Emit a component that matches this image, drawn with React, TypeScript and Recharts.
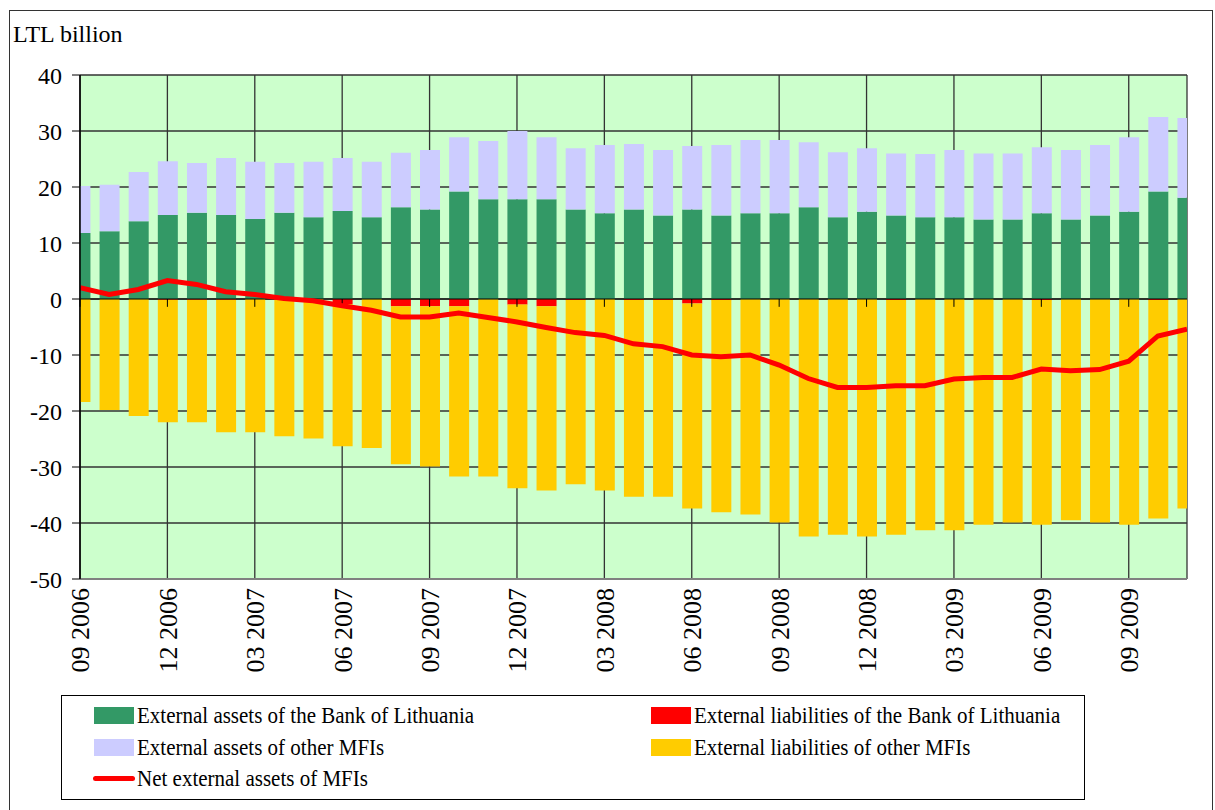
import React from "react";
import {
  ComposedChart,
  Bar,
  Line,
  XAxis,
  YAxis,
  CartesianGrid,
  ReferenceLine,
} from "recharts";

const FONT = '"Liberation Serif", "Times New Roman", serif';

const months = [
  "09 2006", "10 2006", "11 2006", "12 2006",
  "01 2007", "02 2007", "03 2007", "04 2007", "05 2007", "06 2007",
  "07 2007", "08 2007", "09 2007", "10 2007", "11 2007", "12 2007",
  "01 2008", "02 2008", "03 2008", "04 2008", "05 2008", "06 2008",
  "07 2008", "08 2008", "09 2008", "10 2008", "11 2008", "12 2008",
  "01 2009", "02 2009", "03 2009", "04 2009", "05 2009", "06 2009",
  "07 2009", "08 2009", "09 2009", "10 2009", "11 2009",
];

// LTL billion
const bankAssets = [
  11.8, 12.1, 13.9, 15.0, 15.4, 15.0, 14.3, 15.4, 14.6, 15.7, 14.6,
  16.4, 16.0, 19.2, 17.8, 17.8, 17.8, 16.0, 15.3, 16.0, 14.9, 16.0, 14.9, 15.3, 15.3, 16.4,
  14.6, 15.6, 14.9, 14.6, 14.6, 14.2, 14.2, 15.3, 14.2, 14.9, 15.6, 19.2, 18.1,
];
const mfiAssets = [
  8.4, 8.3, 8.8, 9.6, 8.9, 10.2, 10.2, 8.9, 9.9, 9.5, 9.9,
  9.7, 10.6, 9.7, 10.4, 12.2, 11.1, 10.9, 12.2, 11.7, 11.7, 11.3, 12.6, 13.1, 13.1, 11.6,
  11.6, 11.3, 11.1, 11.3, 12.0, 11.8, 11.8, 11.8, 12.4, 12.6, 13.3, 13.3, 14.2,
];
const bankLiabilities = [
  0, 0, 0, -0.15, -0.15, -0.15, 0, 0, 0, -0.9, 0,
  -1.3, -1.3, -1.3, 0, -1.0, -1.3, -0.2, 0, -0.2, -0.2, -0.8, -0.2, 0, 0, 0,
  0, 0, -0.2, 0, 0, 0, 0, -0.2, 0, 0, 0, -0.2, 0,
];
const mfiLiabilities = [
  -18.4, -19.8, -20.9, -21.85, -21.85, -23.65, -23.8, -24.5, -24.9, -25.4, -26.6,
  -28.2, -28.6, -30.4, -31.7, -32.8, -32.9, -32.9, -34.2, -35.1, -35.1, -36.6, -37.9, -38.5, -39.9, -42.4,
  -42.1, -42.4, -41.9, -41.3, -41.3, -40.3, -39.9, -40.1, -39.5, -39.9, -40.3, -39.0, -37.4,
];
const netAssets = [
  2.0, 0.8, 1.7, 3.3, 2.6, 1.3, 0.8, 0.1, -0.3, -1.2, -2.0,
  -3.2, -3.2, -2.5, -3.3, -4.1, -5.1, -6.0, -6.5, -8.0, -8.5, -10.0, -10.3, -10.0, -11.8, -14.2,
  -15.8, -15.8, -15.5, -15.5, -14.3, -14.0, -14.0, -12.5, -12.8, -12.6, -11.1, -6.6, -5.4,
];

const xTicks = [0, 3, 6, 9, 12, 15, 18, 21, 24, 27, 30, 33, 36];
const yTicks = [-50, -40, -30, -20, -10, 0, 10, 20, 30, 40];

const data = months.map((m, i) => ({
  idx: i,
  month: m,
  bankAssets: bankAssets[i],
  mfiAssets: mfiAssets[i],
  bankLiabilities: bankLiabilities[i],
  mfiLiabilities: mfiLiabilities[i],
  net: netAssets[i],
}));

const legendItems = [
  { name: "External assets of the Bank of Lithuania", color: "#339966", type: "rect", col: 0, row: 0 },
  { name: "External liabilities of the Bank of Lithuania", color: "#FF0000", type: "rect", col: 1, row: 0 },
  { name: "External assets of other MFIs", color: "#CCCCFF", type: "rect", col: 0, row: 1 },
  { name: "External liabilities of other MFIs", color: "#FFCC00", type: "rect", col: 1, row: 1 },
  { name: "Net external assets of MFIs", color: "#FF0000", type: "line", col: 0, row: 2 },
];

const XTick = (props: any) => {
  const { x, y, payload } = props;
  return (
    <text
      transform={`translate(${x},${y}) rotate(-90)`}
      textAnchor="end"
      dy="0.36em"
      fontSize={26}
      fontFamily={FONT}
      fill="#000"
    >
      {months[payload.value]}
    </text>
  );
};

function App() {
  return (
    <div
      style={{
        position: "absolute",
        left: 0,
        top: 0,
        width: 1215,
        height: 810,
        overflow: "hidden",
        background: "#fff",
      }}
    >
      <div
        style={{
          position: "absolute",
          left: 9,
          top: 10,
          width: 1202,
          height: 820,
          border: "1px solid #333",
        }}
      />
      <div
        style={{
          position: "absolute",
          left: 13,
          top: 22,
          fontFamily: FONT,
          fontSize: 24,
          lineHeight: "24px",
          color: "#000",
          whiteSpace: "nowrap",
        }}
      >
        LTL billion
      </div>
      <div style={{ position: "absolute", left: 0, top: 0 }}>
        <ComposedChart
          width={1215}
          height={700}
          data={data}
          stackOffset="sign"
          margin={{ top: 75, right: 28, left: 0, bottom: 0 }}
        >
          <CartesianGrid stroke="#333" strokeWidth={1.3} fill="#CCFFCC" fillOpacity={1} />
          <XAxis
            dataKey="idx"
            type="number"
            domain={[0, 38]}
            ticks={xTicks}
            allowDataOverflow
            height={121}
            tickSize={0}
            tickMargin={9}
            tickLine={false}
            axisLine={{ stroke: "#808080", strokeWidth: 2 }}
            tick={<XTick />}
            interval={0}
          />
          <XAxis
            xAxisId="top"
            orientation="top"
            type="number"
            domain={[0, 38]}
            height={0}
            tick={false}
            tickLine={false}
            axisLine={{ stroke: "#808080", strokeWidth: 2 }}
          />
          <YAxis
            type="number"
            domain={[-50, 40]}
            ticks={yTicks}
            width={80}
            tickSize={8}
            tickMargin={10}
            interval={0}
            axisLine={{ stroke: "#000", strokeWidth: 1.5 }}
            tickLine={{ stroke: "#000" }}
            tick={{ fill: "#000", fontSize: 24, fontFamily: FONT }}
          />
          <YAxis
            yAxisId="right"
            orientation="right"
            type="number"
            domain={[-50, 40]}
            width={0}
            tick={false}
            tickLine={false}
            axisLine={{ stroke: "#808080", strokeWidth: 2 }}
          />
          <Bar dataKey="bankAssets" stackId="a" fill="#339966" barSize={20} isAnimationActive={false} />
          <Bar dataKey="mfiAssets" stackId="a" fill="#CCCCFF" barSize={20} isAnimationActive={false} />
          <Bar dataKey="bankLiabilities" stackId="a" fill="#FF0000" barSize={20} isAnimationActive={false} />
          <Bar dataKey="mfiLiabilities" stackId="a" fill="#FFCC00" barSize={20} isAnimationActive={false} />
          <ReferenceLine y={0} stroke="#000" strokeWidth={1.2} />
          {xTicks.map((t) => (
            <ReferenceLine
              key={t}
              segment={[
                { x: t, y: 0 },
                { x: t, y: -1.4 },
              ]}
              stroke="#000"
            />
          ))}
          <Line
            type="linear"
            dataKey="net"
            stroke="#FF0000"
            strokeWidth={5}
            dot={false}
            activeDot={false}
            isAnimationActive={false}
          />
        </ComposedChart>
      </div>
      <div
        style={{
          position: "absolute",
          left: 61,
          top: 695,
          width: 1022,
          height: 103,
          border: "1px solid #000",
          fontFamily: FONT,
          fontSize: 24,
          color: "#000",
        }}
      >
        {legendItems.map((item) => {
          const left = item.col === 0 ? 32 : 589;
          const top = 11 + item.row * 31.5;
          return (
            <div
              key={item.name}
              style={{ position: "absolute", left, top, height: 18, width: 500 }}
            >
              {item.type === "rect" ? (
                <div
                  style={{
                    position: "absolute",
                    left: 0,
                    top: 0,
                    width: 40,
                    height: 17,
                    background: item.color,
                  }}
                />
              ) : (
                <div
                  style={{
                    position: "absolute",
                    left: -1,
                    top: 6,
                    width: 42,
                    height: 5,
                    borderRadius: 3,
                    background: item.color,
                  }}
                />
              )}
              <span
                style={{
                  position: "absolute",
                  left: 43,
                  top: -4,
                  lineHeight: "24px",
                  whiteSpace: "nowrap",
                  display: "inline-block",
                  transform: "scaleX(0.875)",
                  transformOrigin: "left center",
                }}
              >
                {item.name}
              </span>
            </div>
          );
        })}
      </div>
    </div>
  );
}

export default App;
